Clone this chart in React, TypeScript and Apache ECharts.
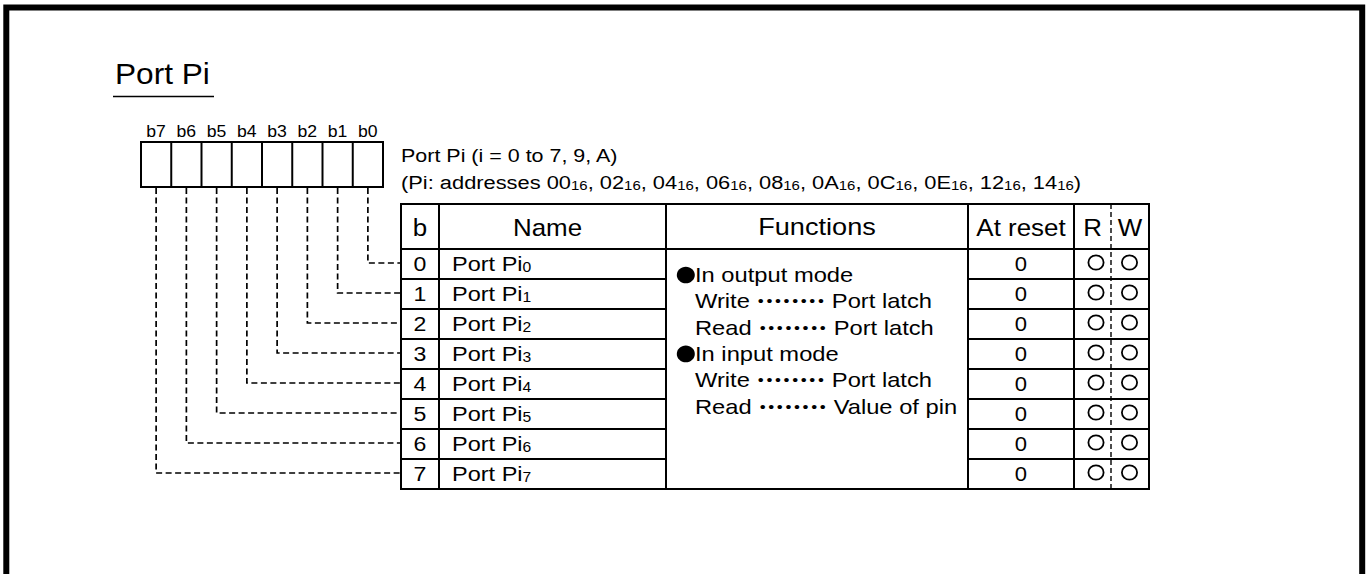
import React, { useEffect, useRef } from "react";
import * as echarts from "echarts";

// ---- content data ----
const TITLE = "Port Pi";
const BIT_LABELS = ["b7", "b6", "b5", "b4", "b3", "b2", "b1", "b0"];
const NOTE_LINE = "Port Pi (i = 0 to 7, 9, A)";
const ADDRESS_PREFIX = "(Pi: addresses ";
const ADDRESSES = ["00", "02", "04", "06", "08", "0A", "0C", "0E", "12", "14"];
const ADDRESS_RADIX = "16";
const HEADERS = ["b", "Name", "Functions", "At reset", "R", "W"];
const ROW_BITS = ["0", "1", "2", "3", "4", "5", "6", "7"];
const ROW_NAME_BASE = "Port Pi";
const ROW_RESET = ["0", "0", "0", "0", "0", "0", "0", "0"];
const ROW_R = [true, true, true, true, true, true, true, true];
const ROW_W = [true, true, true, true, true, true, true, true];
const FUNCTION_LINES: { bullet: boolean; left: string; right?: string }[] = [
  { bullet: true, left: "In output mode" },
  { bullet: false, left: "Write", right: "Port latch" },
  { bullet: false, left: "Read", right: "Port latch" },
  { bullet: true, left: "In input mode" },
  { bullet: false, left: "Write", right: "Port latch" },
  { bullet: false, left: "Read", right: "Value of pin" },
];
const LEADER_DOTS = 8;

const FONT = '"Liberation Sans", Arial, Helvetica, sans-serif';

function txt(
  x: number,
  y: number,
  text: string,
  size: number,
  align: string,
  sx: number,
  rich?: any
) {
  return {
    type: "text",
    x,
    y,
    scaleX: sx,
    silent: true,
    style: {
      text,
      x: 0,
      y: 0,
      fontSize: size,
      fontFamily: FONT,
      fill: "#000",
      align,
      verticalAlign: "middle",
      textAlign: align,
      textVerticalAlign: "middle",
      rich,
    },
  };
}

function ln(x1: number, y1: number, x2: number, y2: number, w: number, dash?: number[]) {
  return {
    type: "line",
    silent: true,
    shape: { x1, y1, x2, y2 },
    style: { stroke: "#000", lineWidth: w, lineDash: dash || null, fill: null },
  };
}

function buildElements() {
  const els: any[] = [];

  // outer frame (open at bottom)
  els.push({
    type: "polyline",
    silent: true,
    shape: { points: [[6.3, 600], [6.3, 7.5], [1362.2, 7.5], [1362.2, 600]] },
    style: { stroke: "#000", lineWidth: 6, fill: null },
  });

  // title + underline
  els.push(txt(115, 74, TITLE, 29, "left", 1.09));
  els.push(ln(113, 96.5, 214, 96.5, 1.5));

  // register boxes
  const rx0 = 141, rx1 = 383, ry0 = 142, ry1 = 187;
  const cw = (rx1 - rx0) / BIT_LABELS.length;
  els.push({
    type: "rect",
    silent: true,
    shape: { x: rx0, y: ry0, width: rx1 - rx0, height: ry1 - ry0 },
    style: { stroke: "#000", lineWidth: 2, fill: "none" },
  });
  for (let i = 1; i < BIT_LABELS.length; i++) {
    els.push(ln(rx0 + i * cw, ry0, rx0 + i * cw, ry1, 2));
  }
  BIT_LABELS.forEach((b, i) => {
    els.push(txt(rx0 + (i + 0.5) * cw, 131.5, b, 16, "center", 1.1));
  });

  // notes
  els.push(txt(401, 155, NOTE_LINE, 19, "left", 1.13));
  const richAddr = {
    m: { fontSize: 19, fontFamily: FONT, fill: "#000", verticalAlign: "bottom" },
    s: { fontSize: 13, fontFamily: FONT, fill: "#000", verticalAlign: "bottom" },
  };
  const addrText =
    "{m|" + ADDRESS_PREFIX + "}" +
    ADDRESSES.map((a) => "{m|" + a + "}{s|" + ADDRESS_RADIX + "}").join("{m|, }") +
    "{m|)}";
  els.push(txt(401, 182, addrText, 19, "left", 1.15, richAddr));

  // table geometry
  const cols = [401, 439, 666, 968, 1074, 1149];
  const rwDiv = 1111;
  const tTop = 204, hBot = 249, rowH = 30;
  const nRows = ROW_BITS.length;
  const tBot = hBot + rowH * nRows;

  els.push({
    type: "rect",
    silent: true,
    shape: { x: cols[0], y: tTop, width: cols[5] - cols[0], height: tBot - tTop },
    style: { stroke: "#000", lineWidth: 2, fill: "none" },
  });
  for (let c = 1; c < 5; c++) els.push(ln(cols[c], tTop, cols[c], tBot, 2));
  els.push(ln(cols[0], hBot, cols[5], hBot, 2));
  for (let r = 1; r < nRows; r++) {
    const y = hBot + r * rowH;
    els.push(ln(cols[0], y, cols[2], y, 2));
    els.push(ln(cols[3], y, cols[5], y, 2));
  }
  els.push(ln(rwDiv, tTop, rwDiv, tBot, 1.4, [5, 3]));

  // headers
  const hy = (tTop + hBot) / 2 + 0.5;
  const hx = [
    (cols[0] + cols[1]) / 2,
    (cols[1] + cols[2]) / 2 - 5,
    (cols[2] + cols[3]) / 2,
    (cols[3] + cols[4]) / 2,
    (cols[4] + rwDiv) / 2,
    (rwDiv + cols[5]) / 2,
  ];
  const hsx = [1.08, 1.08, 1.13, 1.08, 1.08, 1.08];
  HEADERS.forEach((h, i) => els.push(txt(hx[i], hy, h, 24, "center", hsx[i])));

  // rows
  const richName = {
    m: { fontSize: 21, fontFamily: FONT, fill: "#000", verticalAlign: "bottom" },
    s: { fontSize: 14, fontFamily: FONT, fill: "#000", verticalAlign: "bottom" },
  };
  ROW_BITS.forEach((b, r) => {
    const cy = hBot + r * rowH + rowH / 2;
    els.push(txt((cols[0] + cols[1]) / 2, cy, b, 21, "center", 1.1));
    els.push(txt(452, cy, "{m|" + ROW_NAME_BASE + "}{s|" + b + "}", 21, "left", 1.12, richName));
    els.push(txt((cols[3] + cols[4]) / 2, cy, ROW_RESET[r], 21, "center", 1.05));
    if (ROW_R[r]) {
      els.push({
        type: "ellipse",
        silent: true,
        shape: { cx: 1096, cy: cy - 1.5, rx: 7.6, ry: 7.2 },
        style: { stroke: "#000", lineWidth: 1.8, fill: "none" },
      });
    }
    if (ROW_W[r]) {
      els.push({
        type: "ellipse",
        silent: true,
        shape: { cx: 1129.5, cy: cy - 1.5, rx: 7.6, ry: 7.2 },
        style: { stroke: "#000", lineWidth: 1.8, fill: "none" },
      });
    }
    // dashed connector from register bit to row
    const c = BIT_LABELS.length - 1 - r;
    const x = rx0 + (c + 0.5) * cw;
    const yy = cy - 1;
    els.push({
      type: "polyline",
      silent: true,
      shape: { points: [[x, ry1 + 1], [x, yy], [cols[0], yy]] },
      style: { stroke: "#000", lineWidth: 1.7, lineDash: [6, 3.5], fill: null },
    });
  });

  // functions text
  const richFn = {
    m: { fontSize: 21, fontFamily: FONT, fill: "#000" },
    d: { fontSize: 15, fontFamily: FONT, fill: "#000", width: 7.6, align: "center" },
  };
  FUNCTION_LINES.forEach((f, k) => {
    const y = 275 + k * 26.3;
    if (f.bullet) {
      els.push({
        type: "ellipse",
        silent: true,
        shape: { cx: 685.8, cy: y, rx: 9, ry: 8.3 },
        style: { fill: "#000", stroke: null },
      });
    }
    let t = "{m|" + f.left + " }";
    if (f.right) {
      t += "{d|\u2022}".repeat(LEADER_DOTS) + "{m|\u00a0" + f.right + "}";
    }
    els.push(txt(695, y, t, 21, "left", 1.13, richFn));
  });

  return els;
}

export default function App() {
  const ref = useRef<HTMLDivElement>(null);
  useEffect(() => {
    if (!ref.current) return;
    const chart = echarts.init(ref.current, null, { renderer: "svg" });
    chart.setOption({
      animation: false,
      backgroundColor: "#fff",
      graphic: { elements: buildElements() },
    });
    return () => chart.dispose();
  }, []);
  return (
    <div
      ref={ref}
      style={{ position: "fixed", left: 0, top: 0, width: 1368, height: 574, background: "#fff" }}
    />
  );
}
